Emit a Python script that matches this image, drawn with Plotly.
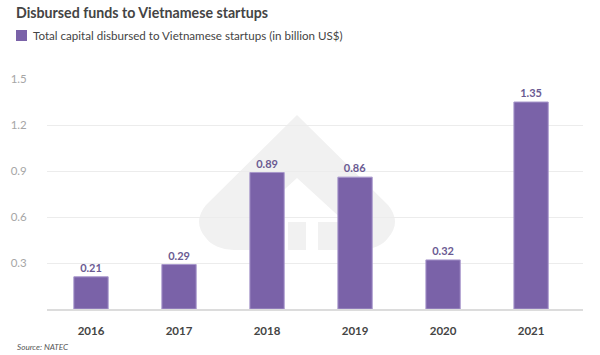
import plotly.graph_objects as go

years = ["2016", "2017", "2018", "2019", "2020", "2021"]
capital = [0.21, 0.29, 0.89, 0.86, 0.32, 1.35]
labels = ["0.21", "0.29", "0.89", "0.86", "0.32", "1.35"]
y_ticks = [0.3, 0.6, 0.9, 1.2, 1.5]
y_tick_text = ["0.3", "0.6", "0.9", "1.2", "1.5"]
series_name = "Total capital disbursed to Vietnamese startups (in billion US$)"

FONT = "Lato"
W, H = 600, 355
L, R, T, B = 47, 17, 79, 46
BAR = "#7a62a8"

fig = go.Figure()
fig.add_trace(go.Bar(
    x=list(range(len(years))), y=capital,
    name=series_name,
    marker=dict(color=BAR, line=dict(color="#a898cc", width=1)),
    width=0.39,
    text=labels, textposition="outside", cliponaxis=False,
    textfont=dict(family=FONT, size=11, color="#6a5a92", weight=700),
    showlegend=False, hoverinfo="skip",
))

def px(xp):
    return (xp - L) / (W - L - R)
def py(yp):
    return (H - B - yp) / (H - T - B)

# faint watermark logo
outer = (f"M {px(297)} {py(115)} L {px(388)} {py(205)} "
         f"Q {px(402)} {py(222)} {px(388)} {py(238)} "
         f"Q {px(380)} {py(249)} {px(360)} {py(250)} "
         f"L {px(234)} {py(250)} "
         f"Q {px(214)} {py(249)} {px(206)} {py(238)} "
         f"Q {px(192)} {py(222)} {px(206)} {py(205)} Z")
inner = (f"M {px(297)} {py(178)} L {px(345)} {py(222)} L {px(318)} {py(222)} "
         f"L {px(318)} {py(252)} L {px(306)} {py(252)} L {px(306)} {py(222)} "
         f"L {px(288)} {py(222)} L {px(288)} {py(252)} L {px(276)} {py(252)} "
         f"L {px(276)} {py(222)} L {px(249)} {py(222)} Z")
fig.add_shape(type="path", path=outer, xref="paper", yref="paper",
              fillcolor="#f1f1f1", line=dict(width=0), layer="below")
fig.add_shape(type="path", path=inner, xref="paper", yref="paper",
              fillcolor="#ffffff", line=dict(width=0), layer="below")

# legend swatch (manual)
fig.add_shape(type="rect", xref="paper", yref="paper",
              x0=px(16), x1=px(27), y0=py(41), y1=py(30),
              fillcolor=BAR, line=dict(width=0))

fig.update_layout(
    width=W, height=H,
    margin=dict(l=L, r=R, t=T, b=B, autoexpand=False),
    paper_bgcolor="white", plot_bgcolor="rgba(0,0,0,0)",
    font=dict(family=FONT, color="#444"),
    showlegend=False,
    title=dict(text="Disbursed funds to Vietnamese startups",
               x=16 / W, xanchor="left", y=1 - 13 / H, yanchor="middle",
               font=dict(family=FONT, size=14.2, color="#444", weight=700)),
    bargap=0.6,
    annotations=[
        dict(text=series_name, xref="paper", yref="paper",
             x=px(31), xanchor="left", y=py(35.5), yanchor="middle",
             showarrow=False, font=dict(family=FONT, size=11.6, color="#444")),
        dict(text="<i>Source: NATEC</i>", xref="paper", yref="paper",
             x=px(15), xanchor="left", y=py(347), yanchor="middle",
             showarrow=False, font=dict(family=FONT, size=8.2, color="#555")),
    ],
)
fig.update_xaxes(
    range=[-0.5, 5.59], tickvals=list(range(len(years))), ticktext=years,
    showgrid=False, zeroline=False, showline=True, linecolor="#dcdcdc", linewidth=1.5,
    tickfont=dict(family=FONT, size=11.5, color="#444", weight=700),
    ticks="outside", ticklen=10, tickcolor="rgba(0,0,0,0)", automargin=False,
)
fig.update_yaxes(
    range=[0, 1.5], tickvals=y_ticks, ticktext=y_tick_text,
    showgrid=True, gridcolor="#ececec", gridwidth=1, zeroline=False,
    tickfont=dict(family=FONT, size=11.5, color="#a6a6a6"),
    ticks="outside", ticklen=17, tickcolor="rgba(0,0,0,0)", automargin=False,
)

fig.write_html("out.html", config={"displayModeBar": False},
               post_script="document.body.style.margin='0';document.body.style.overflow='hidden';")
